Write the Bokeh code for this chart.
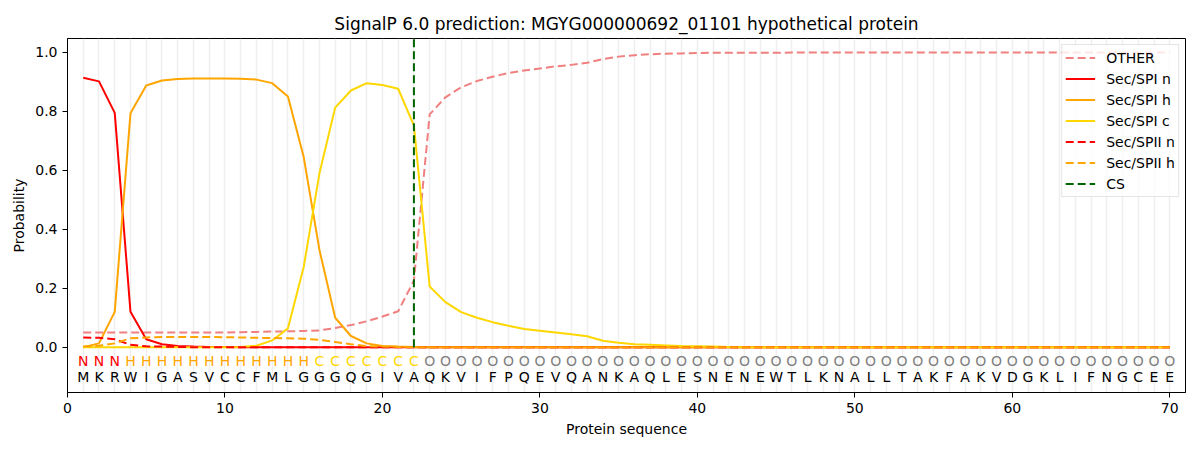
from bokeh.plotting import figure
from bokeh.models import ColumnDataSource, FixedTicker, Legend, LegendItem, Range1d, CustomJSTickFormatter
from bokeh.core.properties import value
from bokeh.embed import file_html
from bokeh.resources import INLINE

sequence = list("MKRWIGASVCCFMLGGGQGIVAQKVIFPQEVQANKAQLESNENEWTLKNALLTAKFAKVDGKLIFNGCEE")
regions = list("NNN" + "H" * 12 + "C" * 7 + "O" * 48)
positions = list(range(1, 71))

other = [0.05, 0.05, 0.05, 0.05, 0.05, 0.05, 0.05, 0.05, 0.05, 0.05,
         0.051, 0.052, 0.053, 0.054, 0.055, 0.057, 0.065, 0.075, 0.088, 0.104,
         0.122, 0.226, 0.79, 0.848, 0.882, 0.903, 0.918, 0.93, 0.939, 0.946,
         0.953, 0.958, 0.965, 0.978, 0.986, 0.991, 0.994, 0.996, 0.997, 0.998,
         0.999, 0.999, 0.999, 0.999, 0.999, 1.0, 1.0, 1.0, 1.0, 1.0,
         1.0, 1.0, 1.0, 1.0, 1.0, 1.0, 1.0, 1.0, 1.0, 1.0,
         1.0, 1.0, 1.0, 1.0, 1.0, 1.0, 1.0, 1.0, 1.0, 1.0]
spi_n = [0.914, 0.902, 0.795, 0.12, 0.027, 0.01, 0.004, 0.002, 0.001, 0.001] + [0.0] * 60
spi_h = [0.0, 0.013, 0.12, 0.794, 0.888, 0.905, 0.91, 0.912, 0.912, 0.912,
         0.911, 0.908, 0.896, 0.851, 0.645, 0.33, 0.10, 0.038, 0.013, 0.004,
         0.002, 0.001] + [0.0] * 48
spi_c = [0.0] * 10 + [0.001, 0.005, 0.023, 0.064, 0.272, 0.59, 0.813, 0.871, 0.896, 0.89,
                      0.877, 0.752, 0.206, 0.153, 0.119, 0.100, 0.085, 0.073, 0.062, 0.056,
                      0.050, 0.044, 0.037, 0.022, 0.015, 0.010, 0.008, 0.006, 0.004, 0.003,
                      0.002, 0.001] + [0.0] * 28
spii_n = [0.033, 0.032, 0.027, 0.008, 0.003, 0.002, 0.001] + [0.0] * 63
spii_h = [0.002, 0.005, 0.013, 0.03, 0.033, 0.035, 0.035, 0.035, 0.035, 0.034,
          0.033, 0.032, 0.031, 0.030, 0.029, 0.025, 0.018, 0.010, 0.004, 0.002,
          0.001] + [0.0] * 49
cs_pos = 22

region_colors = {"N": "#ff0000", "H": "#ffa500", "C": "#ffd700", "O": "#808080"}

FONT = "DejaVu Sans"

p = figure(width=1192, height=442, output_backend="svg", toolbar_location=None,
           x_range=Range1d(0, 71), y_range=Range1d(-0.1537, 1.0475),
           title="SignalP 6.0 prediction: MGYG000000692_01101 hypothetical protein",
           min_border_left=67, min_border_right=7, min_border_top=38, min_border_bottom=50)
p.title.align = "center"
p.title.text_font = FONT
p.title.text_font_size = "17px"
p.title.text_font_style = "normal"
p.title.text_color = "black"

p.outline_line_color = "black"
p.outline_line_width = 1

p.xaxis.axis_label = "Protein sequence"
p.yaxis.axis_label = "Probability"
for ax in (p.xaxis, p.yaxis):
    ax.axis_label_text_font = FONT
    ax.axis_label_text_font_size = "14px"
    ax.axis_label_text_font_style = "normal"
    ax.axis_label_text_color = "black"
    ax.major_label_text_font = FONT
    ax.major_label_text_font_size = "14px"
    ax.major_label_text_color = "black"
    ax.minor_tick_line_color = None
    ax.major_tick_out = 5
    ax.major_tick_in = 0
    ax.major_tick_line_color = "black"
    ax.axis_line_color = "black"
p.xaxis.ticker = FixedTicker(ticks=[0, 10, 20, 30, 40, 50, 60, 70])
p.yaxis.ticker = FixedTicker(ticks=[0.0, 0.2, 0.4, 0.6, 0.8, 1.0])
p.yaxis.formatter = CustomJSTickFormatter(code="return tick.toFixed(1);")

p.xgrid.ticker = FixedTicker(ticks=positions)
p.xgrid.grid_line_color = "#e8e8e8"
p.xgrid.grid_line_width = 1.5
p.xgrid.grid_line_alpha = 0.7
p.ygrid.grid_line_color = None

dash = "8 4"
r_other = p.line(positions, other, line_color="#f08080", line_width=2, line_dash=dash)
r_n = p.line(positions, spi_n, line_color="#ff0000", line_width=2)
r_h = p.line(positions, spi_h, line_color="#ffa500", line_width=2)
r_c = p.line(positions, spi_c, line_color="#ffd700", line_width=2)
r_n2 = p.line(positions, spii_n, line_color="#ff0000", line_width=2, line_dash=dash)
r_h2 = p.line(positions, spii_h, line_color="#ffa500", line_width=2, line_dash=dash)
r_cs = p.segment(x0=[cs_pos], y0=[0.0], x1=[cs_pos], y1=[1.0475],
                 line_color="#006400", line_width=2, line_dash=dash)

src = ColumnDataSource(dict(
    x=positions,
    reg=regions,
    seq=sequence,
    col=[region_colors[r] for r in regions],
    yr=[-0.048] * 70,
    ys=[-0.102] * 70,
))
p.text(x="x", y="yr", text="reg", text_color="col", source=src,
       text_align="center", text_baseline="middle",
       text_font=value(FONT), text_font_size="14px")
p.text(x="x", y="ys", text="seq", text_color="black", source=src,
       text_align="center", text_baseline="middle",
       text_font=value(FONT), text_font_size="14px")

legend = Legend(items=[
    LegendItem(label="OTHER", renderers=[r_other]),
    LegendItem(label="Sec/SPI n", renderers=[r_n]),
    LegendItem(label="Sec/SPI h", renderers=[r_h]),
    LegendItem(label="Sec/SPI c", renderers=[r_c]),
    LegendItem(label="Sec/SPII n", renderers=[r_n2]),
    LegendItem(label="Sec/SPII h", renderers=[r_h2]),
    LegendItem(label="CS", renderers=[r_cs]),
], location="top_right")
legend.label_text_font = FONT
legend.label_text_font_size = "14px"
legend.label_text_color = "black"
legend.border_line_color = "#cccccc"
legend.border_line_width = 1
legend.background_fill_alpha = 0.8
legend.glyph_width = 30
legend.glyph_height = 19
legend.label_height = 19
legend.spacing = 2
legend.padding = 3
legend.margin = 6
legend.label_standoff = 11
p.add_layout(legend)

open("out.html", "w").write(file_html(p, INLINE))
